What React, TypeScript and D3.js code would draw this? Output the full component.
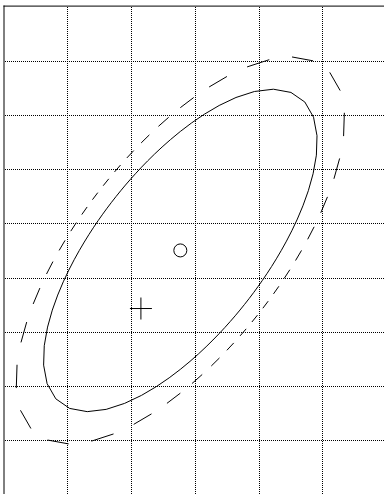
import React from "react";
import * as d3 from "d3";

const W = 384;
const H = 494;

// grid tick values (data units)
const xGridTicks = [1, 2, 3, 4, 5];
const yGridTicks = [1, 2, 3, 4, 5, 6, 7, 8];

// ellipse parameters (data units)
const ellipseCenter = [2.765, 4.51];
const ellipseSpread = [2.147, 2.978];
const ellipseCorr = 0.675;
const ellipseLevels = [1.0, 1.2]; // solid, dashed
const polarStepDeg = 5;

// markers
const circleMarker = [2.765, 4.51];
const plusMarker = [2.147, 3.437];

const x = d3.scaleLinear().domain([0, 6]).range([4.05, 4.05 + 6 * 63.75]);
const y = d3.scaleLinear().domain([0, 9]).range([494.6, 494.6 - 9 * 54.14]);

function ellipseVertices(level: number): [number, number][] {
  const cx = x(ellipseCenter[0]);
  const cy = y(ellipseCenter[1]);
  const kx = x(1) - x(0);
  const ky = y(0) - y(1);
  const sx = ellipseSpread[0] * kx;
  const sy = ellipseSpread[1] * ky;
  const sxx = sx * sx;
  const syy = sy * sy;
  const sxy = ellipseCorr * sx * sy;
  const det = sxx * syy - sxy * sxy;
  const a11 = syy / det;
  const a22 = sxx / det;
  const a12 = -sxy / det;
  const pts: [number, number][] = [];
  const n = 360 / polarStepDeg;
  for (let i = 0; i < n; i++) {
    const t = (i * polarStepDeg * Math.PI) / 180;
    const c = Math.cos(t);
    const s = Math.sin(t);
    const q = a11 * c * c + 2 * a12 * c * s + a22 * s * s;
    const r = level / Math.sqrt(q);
    pts.push([cx + r * c, cy - r * s]);
  }
  return pts;
}

export default function App() {
  const solid = ellipseVertices(ellipseLevels[0]);
  const dashed = ellipseVertices(ellipseLevels[1]);
  const line = d3.line<[number, number]>().curve(d3.curveLinearClosed);
  const dashSegs: string[] = [];
  for (let k = 1; k < dashed.length; k += 2) {
    const a = dashed[k];
    const b = dashed[(k + 1) % dashed.length];
    dashSegs.push(`M${a[0]},${a[1]}L${b[0]},${b[1]}`);
  }
  const px = (v: number) => Math.floor(v) + 0.5;
  const ccx = x(circleMarker[0]);
  const ccy = y(circleMarker[1]);
  const pcx = x(plusMarker[0]);
  const pcy = y(plusMarker[1]);
  return (
    <svg
      width={W}
      height={H}
      style={{ position: "absolute", left: 0, top: 0, background: "#fff" }}
    >
      {xGridTicks.map((t) => (
        <line
          key={"vx" + t}
          x1={px(x(t))}
          x2={px(x(t))}
          y1={7}
          y2={H}
          stroke="#000"
          strokeWidth={1}
          strokeDasharray="1,1"
          shapeRendering="crispEdges"
        />
      ))}
      {yGridTicks.map((t) => (
        <line
          key={"hy" + t}
          x1={5}
          x2={W}
          y1={px(y(t))}
          y2={px(y(t))}
          stroke="#000"
          strokeWidth={1}
          strokeDasharray="1,1"
          shapeRendering="crispEdges"
        />
      ))}
      <line x1={4} x2={4} y1={5.5} y2={H} stroke="#000" strokeWidth={1} />
      <line x1={3.5} x2={W} y1={6.1} y2={6.1} stroke="#000" strokeWidth={1} />
      <path d={line(solid) || ""} fill="none" stroke="#000" strokeWidth={1} />
      <path d={dashSegs.join("")} fill="none" stroke="#000" strokeWidth={1} />
      <circle cx={ccx} cy={ccy} r={6.5} fill="none" stroke="#000" strokeWidth={1} />
      <line x1={pcx - 11} x2={pcx + 11} y1={pcy} y2={pcy} stroke="#000" strokeWidth={1} />
      <line x1={pcx} x2={pcx} y1={pcy - 11} y2={pcy + 11} stroke="#000" strokeWidth={1} />
    </svg>
  );
}
